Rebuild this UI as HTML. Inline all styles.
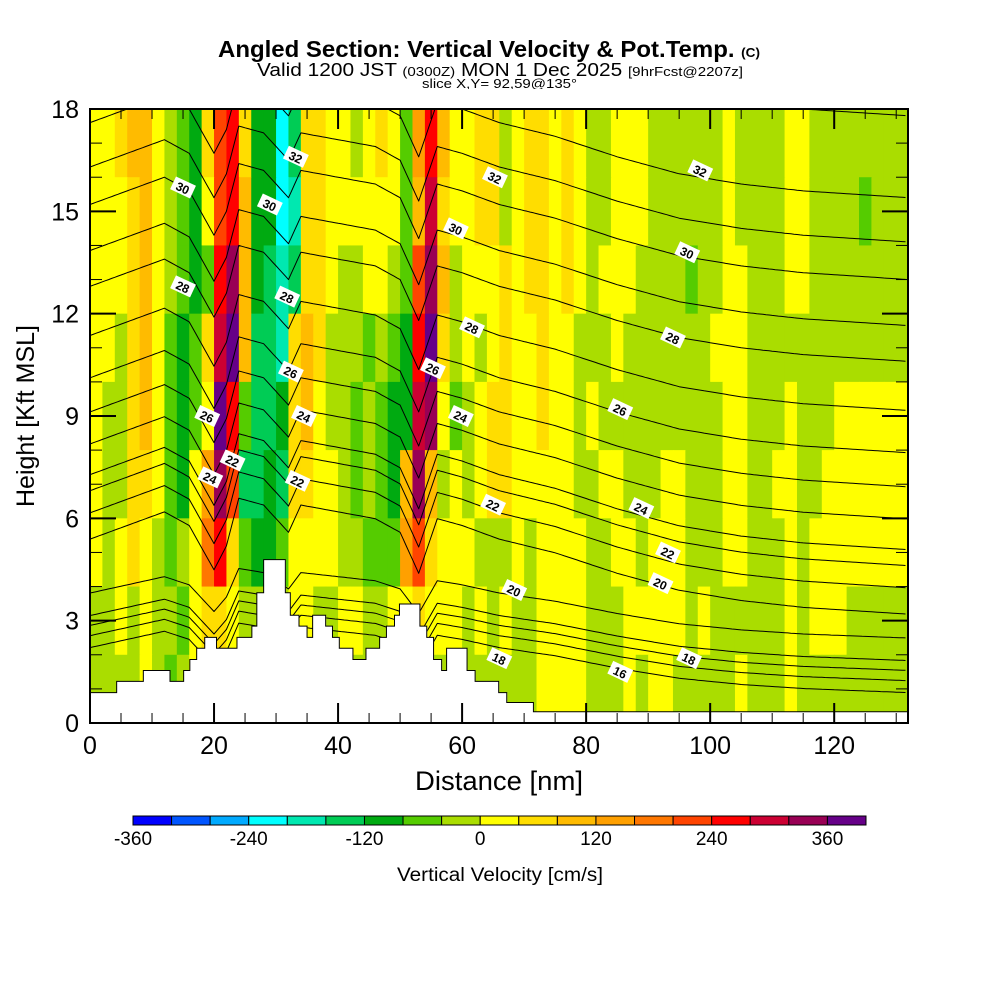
<!DOCTYPE html>
<html><head><meta charset="utf-8">
<style>
html,body{margin:0;padding:0;background:#fff;}
svg{display:block;font-family:"Liberation Sans",sans-serif;}
</style></head>
<body>
<svg id="chart" width="1000" height="1000" viewBox="0 0 1000 1000" xmlns="http://www.w3.org/2000/svg">
  <g>
    <text x="218" y="57" font-size="23" font-weight="bold" textLength="542" lengthAdjust="spacingAndGlyphs">Angled Section: Vertical Velocity &amp; Pot.Temp. <tspan font-size="13">(C)</tspan></text>
    <text x="257" y="76" font-size="18" textLength="486" lengthAdjust="spacingAndGlyphs">Valid 1200 JST <tspan font-size="13">(0300Z)</tspan> MON 1 Dec 2025 <tspan font-size="13">[9hrFcst@2207z]</tspan></text>
    <text x="422" y="88" font-size="13" textLength="155" lengthAdjust="spacingAndGlyphs">slice X,Y= 92,59@135°</text>
  </g>
  <g id="field"></g>
  <g id="contours"></g>
  <g id="terrain"></g>
  <g id="clabels"></g>
  <g id="axes"></g>
  <g id="colorbar"></g>
  <text x="500" y="881" text-anchor="middle" font-size="19" textLength="206" lengthAdjust="spacingAndGlyphs">Vertical Velocity [cm/s]</text>
  <text x="499" y="790" text-anchor="middle" font-size="27" textLength="168" lengthAdjust="spacingAndGlyphs">Distance [nm]</text>
  <text transform="translate(34,416) rotate(-90)" text-anchor="middle" font-size="25">Height [Kft MSL]</text>
</svg>
<script>
// ---- data ----
const xTicks = [0,20,40,60,80,100,120];
const yTicks = [0,3,6,9,12,15,18];
const cbTicks = [-360,-240,-120,0,120,240,360];
const cbEdges = [-360,-320,-280,-240,-200,-160,-120,-80,-40,0,40,80,120,160,200,240,280,320,360,400];
const cbColors = ["#0000ff","#0055ff","#00aaff","#00ffff","#00e8b0","#00cc55","#00aa11","#55cc00","#aadd00","#ffff00","#ffdd00","#ffbb00","#ffa000","#ff7700","#ff4400","#ff0000","#cc0033","#990055","#660088"];
// vertical velocity rows (cm/s), 2 kft bands top (16-18) to bottom (0-2), columns 2 nm wide
const w16 = [20,20,60,100,100,20,-20,-60,-100,60,220,260,60,-100,-100,-220,-140,60,60,20,20,-20,20,60,20,-60,140,260,100,20,20,60,60,-20,20,60,60,20,60,20,-20,-20,20,20,20,-20,-20,-20,-20,-20,-20,20,-20,-20,-20,-20,20,20,-20,-20,-20,-20,-20,-20,-20,-20];
const w14 = [20,20,20,60,100,20,-20,-60,-100,20,220,260,100,-100,-100,-220,-180,60,60,20,20,20,20,20,20,-60,100,300,60,20,20,60,60,-20,20,60,60,20,60,20,-20,-20,20,20,20,-20,-20,-20,-20,-20,-20,20,-20,-20,-20,-20,20,20,-20,-20,-20,-20,-60,-20,-20,-20];
const w12 = [20,20,20,60,100,20,-20,-60,-100,-60,260,340,100,-100,-140,-180,-140,60,60,20,-20,-20,20,20,-20,-60,220,340,100,-20,20,20,20,60,20,60,60,20,60,20,-20,20,20,20,-20,-20,-20,-20,-60,-20,-20,20,20,-20,-20,-20,20,20,-20,-20,-20,-20,-20,-20,-20,-20];
const w10 = [20,20,-20,60,100,20,-60,-100,-60,60,300,380,100,-140,-140,-180,60,100,60,-20,-20,-20,-60,-20,-60,-100,260,380,60,-20,20,-20,20,60,20,20,60,20,20,-20,-20,-20,20,-20,-20,-20,-20,-20,-20,-20,20,20,20,-20,-20,-20,-20,-20,-20,-20,-20,-20,-20,-20,-20,-20];
const w8 = [20,-20,-20,60,100,20,-60,-100,-60,20,380,260,-60,-140,-140,-100,60,100,20,-20,-20,-60,-20,-60,-100,-100,300,340,20,-60,-20,20,60,60,20,20,60,20,20,-20,20,-20,-20,-20,-20,-20,-20,-20,-20,-20,-20,20,20,-20,-20,-20,20,-20,-20,-20,20,20,20,20,20,20];
const w6 = [20,-20,-20,60,60,20,-60,-100,20,140,340,220,-140,-140,-100,-140,60,60,20,20,-20,-60,-20,-60,-100,100,340,100,-20,20,-20,20,60,60,20,20,20,20,20,-20,-20,20,20,-20,-20,-20,20,20,-20,-20,-20,20,20,-20,-20,20,20,-20,-20,20,20,20,20,20,20,20];
const w4 = [20,-20,20,60,20,-20,-60,-20,20,180,260,60,-60,-100,-100,-60,20,20,20,20,-20,-20,-60,-60,-60,140,220,60,20,20,20,-20,-20,-20,20,-20,20,20,20,20,-20,-20,20,20,-20,20,20,20,-20,-20,-20,20,20,-20,-20,-20,20,-20,20,20,20,20,20,20,20,20];
const w2 = [-20,-20,20,-20,20,-20,-20,-60,20,60,60,20,-20,-20,-20,-20,20,20,-20,-20,20,20,-20,-20,20,20,60,20,20,20,-20,20,-20,20,-20,-20,20,20,20,20,-20,-20,-20,20,20,20,20,20,-20,20,-20,-20,-20,-20,-20,-20,20,-20,20,20,20,-20,-20,-20,-20,-20];
const w0 = [-20,-20,-20,-20,20,-20,-60,-20,20,-20,-20,-20,-20,-20,-20,-20,20,-20,-20,-20,-20,-20,-20,-20,-20,-20,-20,-20,-20,-20,-20,-20,-20,-20,-20,-20,20,20,20,20,-20,-20,-20,20,-20,20,20,-20,-20,-20,-20,-20,20,-20,-20,-20,20,-20,-20,-20,-20,-20,-20,-20,-20,-20];
const wRows = [w16,w14,w12,w10,w8,w6,w4,w2,w0];
const rowTops = [18,16,14,12,10,8,6,4,2];
// terrain steps: start nm, end nm, height kft
const terrStart = [0,4.3,8.6,12.9,15.1,16.1,17.2,18.5,20.4,23.7,26.1,26.9,28.0,31.5,32.3,33.7,35.0,35.9,38.0,39.1,40.2,42.4,44.5,46.7,47.8,49.1,49.9,53.2,54.3,55.4,56.7,57.5,60.8,62.1,65.9,67.2,71.5];
const terrEnd   = [4.3,8.6,12.9,15.1,16.1,17.2,18.5,20.4,23.7,26.1,26.9,28.0,31.5,32.3,33.7,35.0,35.9,38.0,39.1,40.2,42.4,44.5,46.7,47.8,49.1,49.9,53.2,54.3,55.4,56.7,57.5,60.8,62.1,65.9,67.2,71.5,132];
const terrH     = [0.89,1.22,1.54,1.22,1.54,1.86,2.19,2.51,2.19,2.51,2.84,3.82,4.79,3.82,3.16,2.84,2.51,3.16,2.84,2.51,2.19,1.86,2.19,2.51,2.84,3.16,3.49,2.84,2.51,1.86,1.54,2.19,1.54,1.22,0.89,0.6,0.33];
// potential temperature contours: level and height at right edge (kft)
const thetaLevels = [15,16,17,18,19,20,21,22,23,24,25,26,27,28,29,30,31,32,33];
const thetaRightH = [0.89,1.24,1.54,1.83,2.49,3.19,3.96,4.61,5.08,5.98,6.92,7.92,9.16,10.6,11.65,13.0,14.1,15.4,17.8];
// common offset profile added to contour heights
const offNm = [0,6,12,16,20,22,24,28,32,34,40,46,50,53,56,60,66,75,85,95,105,115,132];
const offKft= [2.2,2.6,3.0,2.6,1.3,2.0,3.4,3.2,2.4,3.2,3.0,2.8,2.4,1.2,2.8,2.6,2.2,1.8,1.2,0.7,0.4,0.2,0];
// contour labels
const labNm  = [15,15,18.9,19.4,23,29,33.2,31.8,32.4,34.5,33.5,65.3,59,61.6,55.3,59.8,65,68.4,66,98.4,96.3,94,85.5,88.9,93.2,92,96.6,85.5];
const labKft = [15.7,12.8,9.0,7.2,7.7,15.2,16.6,12.5,10.3,9.0,7.1,16.0,14.5,11.6,10.4,9.0,6.4,3.9,1.9,16.2,13.8,11.3,9.2,6.3,5.0,4.1,1.9,1.5];
const labText= ["30","28","26","24","22","30","32","28","26","24","22","32","30","28","26","24","22","20","18","32","30","28","26","24","22","20","18","16"];

// ---- scales ----
const X0=90, X1=908, XMAX=131.9, Y0=723, Y1=109, YMAX=18;
const X = v => X0 + v*(X1-X0)/XMAX;
const Y = v => Y0 - v*(Y0-Y1)/YMAX;
const NS="http://www.w3.org/2000/svg";
function mk(tag, attrs, parent){const e=document.createElementNS(NS,tag);for(const k in attrs)e.setAttribute(k,attrs[k]);parent.appendChild(e);return e;}
function colorFor(v){for(let i=0;i<cbColors.length;i++){if(v>=cbEdges[i]&&v<cbEdges[i+1])return cbColors[i];}return v<cbEdges[0]?cbColors[0]:cbColors[cbColors.length-1];}
function interp(xs,ys,x){if(x<=xs[0])return ys[0];for(let i=1;i<xs.length;i++){if(x<=xs[i]){const t=(x-xs[i-1])/(xs[i]-xs[i-1]);return ys[i-1]+t*(ys[i]-ys[i-1]);}}return ys[ys.length-1];}

// ---- field ----
const field=document.getElementById('field');
wRows.forEach((row,r)=>{
  row.forEach((v,c)=>{
    const x0=X(2*c), x1=X(Math.min(2*c+2,XMAX));
    const top=rowTops[r], bot=Math.max(top-2,0.33);
    const rc=mk('rect',{x:x0,y:Y(top),width:(x1-x0)+0.6,height:Y(bot)-Y(top)+0.6,fill:colorFor(v)},field);
    
    
  });
});

// ---- contours ----
const cont=document.getElementById('contours');
thetaLevels.forEach((th,i)=>{
  const pts=[];
  for(let x=0;x<=XMAX+0.01;x+=0.5){
    let h=thetaRightH[i]+interp(offNm,offKft,x)*(th<20?0.6:1);
    h=Math.min(h,18.3);
    pts.push(X(x).toFixed(1)+','+Y(h).toFixed(1));
  }
  const pl=mk('polyline',{points:pts.join(' '),fill:'none',stroke:'#000','stroke-width':1,'stroke-linejoin':'round'},cont);
  
  
});

// ---- terrain ----
const terr=document.getElementById('terrain');
const clip=mk('rect',{x:X0,y:Y1-20,width:X1-X0,height:20,fill:'#fff'},terr);


terrH.forEach((h,i)=>{
  const r=mk('rect',{x:X(terrStart[i]),y:Y(h),width:X(terrEnd[i])-X(terrStart[i])+0.5,height:Y0-Y(h),fill:'#fff'},terr);
  
  
});
let tp='M'+X(0)+','+Y0;
terrH.forEach((h,i)=>{tp+=' L'+X(terrStart[i])+','+Y(h)+' L'+X(terrEnd[i])+','+Y(h);});
const tpath=mk('path',{d:tp,fill:'none',stroke:'#000','stroke-width':1},terr);



// ---- contour labels ----
const cl=document.getElementById('clabels');
labText.forEach((t,i)=>{
  const g=mk('g',{transform:'translate('+X(labNm[i])+','+Y(labKft[i])+') rotate(25)'},cl);
  
  
  mk('rect',{x:-11,y:-7,width:22,height:14,fill:'#fff'},g);
  const tx=mk('text',{x:0,y:5,'text-anchor':'middle','font-size':12,'font-weight':'bold'},g);
  tx.textContent=t;
});

// ---- axes ----
const ax=document.getElementById('axes');
const frame=mk('rect',{x:X0,y:Y1,width:X1-X0,height:Y0-Y1,fill:'none',stroke:'#000','stroke-width':2},ax);


for(let v=0;v<=XMAX;v+=5){
  const L=(v%20===0)?20:10;
  mk('line',{x1:X(v),y1:Y0,x2:X(v),y2:Y0-L,stroke:'#000','stroke-width':(v%20===0)?2:1},ax);
  mk('line',{x1:X(v),y1:Y1,x2:X(v),y2:Y1+L,stroke:'#000','stroke-width':(v%20===0)?2:1},ax);
}
for(let v=0;v<=YMAX;v+=1){
  const L=(v%3===0)?26:12;
  mk('line',{x1:X0,y1:Y(v),x2:X0+L,y2:Y(v),stroke:'#000','stroke-width':(v%3===0)?2:1},ax);
  mk('line',{x1:X1,y1:Y(v),x2:X1-L,y2:Y(v),stroke:'#000','stroke-width':(v%3===0)?2:1},ax);
}
xTicks.forEach(v=>{
  const t=mk('text',{x:X(v),y:Y0+31,'text-anchor':'middle','font-size':25},ax);
  
  
  t.textContent=v;
});
yTicks.forEach(v=>{
  const t=mk('text',{x:X0-11,y:Y(v)+9,'text-anchor':'end','font-size':25},ax);
  
  
  t.textContent=v;
});

// ---- colorbar ----
const cb=document.getElementById('colorbar');
const CB0=133, CB1=866, CBY=816, CBH=9;
const cbX = v => CB0 + (v-cbEdges[0])*(CB1-CB0)/(cbEdges[cbEdges.length-1]-cbEdges[0]);
cbColors.forEach((c,i)=>{
  const r=mk('rect',{x:cbX(cbEdges[i]),y:CBY,width:cbX(cbEdges[i+1])-cbX(cbEdges[i]),height:CBH,fill:c,stroke:'#000','stroke-width':1},cb);
  
  
});
cbTicks.forEach(v=>{
  const t=mk('text',{x:cbX(v),y:845,'text-anchor':'middle','font-size':19},cb);
  
  
  t.textContent=v;
});
</script>
</body></html>
